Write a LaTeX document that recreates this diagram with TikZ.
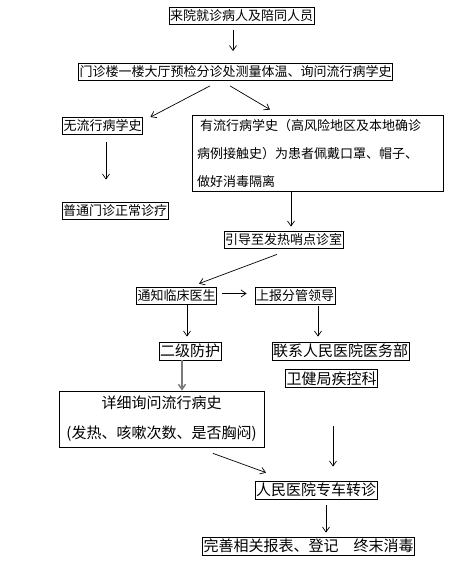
\documentclass[tikz,border=0pt]{standalone}
\usepackage{fontspec}
\usepackage{xcolor}
\usepackage{tikz}
\usetikzlibrary{arrows.meta}
\newfontfamily\cjk{Noto Sans CJK SC}
\definecolor{tgray}{HTML}{7A7A7A}

\begin{document}
\begin{tikzpicture}[x=1pt, y=1pt,
  tbox/.style={draw, line width=0.8pt, inner sep=1pt, minimum height=17pt, align=center, font=\cjk\fontsize{13}{15}\selectfont},
  tboxl/.style={tbox, minimum height=18pt, font=\cjk\fontsize{15}{17}\selectfont},
  arr/.style={-{Straight Barb[length=5pt, width=7pt]}, line width=0.7pt},
  grayarr/.style={arr, tgray, line width=1.5pt}
]
  \useasboundingbox[fill=white] (0,0) rectangle (450,575);

  \node[tbox] (title) at (241.5,559.5) {来院就诊病人及陪同人员};
  \node[tbox] (gate) at (235.5,503) {门诊楼一楼大厅预检分诊处测量体温、询问流行病学史};

  \node[tbox] (none) at (102.5,449) {无流行病学史};
  \node[tbox, minimum width=251pt, minimum height=76pt, inner xsep=5pt, text width=241pt, align=left,
        font=\cjk\fontsize{13}{28}\selectfont] (has) at (317.5,422)
        {\hspace*{3pt}有流行病学史（高风险地区及本地确诊\\病例接触史）为患者佩戴口罩、帽子、\\做好消毒隔离};
  \node[tbox] (normal) at (115,364.5) {普通门诊正常诊疗};

  \node[tbox] (fever) at (283.5,335.5) {引导至发热哨点诊室};
  \node[tbox] (notify) at (176.5,279.5) {通知临床医生};
  \node[tbox] (report) at (295,279.5) {上报分管领导};

  \node[tboxl] (level2) at (190,224) {二级防护};
  \node[tboxl] (contact) at (340.5,224) {联系人民医院医务部};
  \node[tboxl] (cdc) at (331.5,196.5) {卫健局疾控科};

  \node[tboxl, minimum width=205pt, minimum height=56pt, font=\cjk\fontsize{15}{30}\selectfont] (detail) at (161.5,156)
        {详细询问流行病史\\(发热、咳嗽次数、是否胸闷)};

  \node[tboxl] (transfer) at (316,85) {人民医院专车转诊};
  \node[tboxl] (finish) at (308.5,29) {完善相关报表、登记　终末消毒};

  \coordinate (cdcout) at ([xshift=1.5pt, yshift=-38pt]cdc.south);

  % arrows
  \draw[arr] ([xshift=-8.5pt, yshift=-6pt]title.south) -- ([xshift=-2.5pt, yshift=12pt]gate.north);
  \draw[arr] ([xshift=-25.5pt, yshift=-5pt]gate.south) -- ([xshift=7.5pt]none.north east);
  \draw[arr] ([xshift=-5.5pt, yshift=-5pt]gate.south) -- ([xshift=-47.5pt, yshift=5pt]has.north);
  \draw[arr] ([xshift=3.5pt, yshift=-7.5pt]none.south) -- ([xshift=-9pt, yshift=22pt]normal.north);
  \draw[arr] ([xshift=-26.5pt]has.south) -- ([xshift=7.5pt, yshift=4pt]fever.north);
  \draw[arr] ([xshift=-6.5pt, yshift=-6pt]fever.south) -- ([xshift=22.5pt, yshift=3pt]notify.north);
  \draw[arr] ([xshift=5pt, yshift=2pt]notify.east) -- ([xshift=-8pt, yshift=2pt]report.west);
  \draw[arr] ([xshift=10.5pt, yshift=-1pt]notify.south) -- ([xshift=-3pt, yshift=5pt]level2.north);
  \draw[arr] ([xshift=23pt, yshift=-2pt]report.south) -- ([xshift=-22.5pt, yshift=5pt]contact.north);
  \draw[grayarr] ([xshift=-8pt]level2.south) -- ([xshift=20.5pt]detail.north);
  \draw[arr] ([xshift=51.5pt, yshift=-6pt]detail.south) -- ([xshift=-50pt, yshift=8pt]transfer.north);
  \draw[arr] (cdcout) -- ([xshift=17pt, yshift=14pt]transfer.north);
  \draw[arr] ([xshift=10pt, yshift=-6pt]transfer.south) -- ([xshift=17.5pt, yshift=4pt]finish.north);
\end{tikzpicture}
\end{document}
